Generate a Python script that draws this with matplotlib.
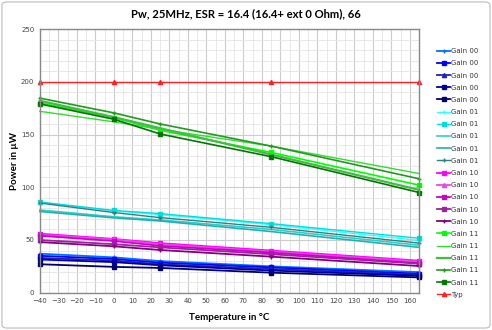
import matplotlib
matplotlib.use("Agg")
import matplotlib.pyplot as plt
from matplotlib.patches import FancyBboxPatch
from matplotlib.ticker import MultipleLocator

# temperatures measured
temps = [-40, 0, 25, 85, 165]

# Gain 00 (blue)
g00_a = [37, 33.5, 30, 25, 19.5]
g00_b = [35, 32, 28.5, 24, 18]
g00_c = [33, 30.5, 27, 22.5, 17]
g00_d = [31.5, 29, 26, 21, 16]
g00_e = [27, 24.5, 23.5, 19, 14.5]

# Gain 01 (cyan)
g01_a = [85.5, 77.5, 74, 64.5, 49.5]
g01_b = [86, 78, 75, 65.5, 51.6]
g01_c = [78.4, 72, 69, 60, 45]
g01_d = [77, 71, 68, 58, 43]
g01_e = [85, 76, 71.2, 62, 47]

# Gain 10 (magenta)
g10_a = [56, 51, 47, 40, 30.4]
g10_b = [55, 50.5, 46, 39, 29.5]
g10_c = [54, 49, 44.5, 38, 28]
g10_d = [50, 46, 43, 36.5, 27.5]
g10_e = [48, 44, 40.5, 34.2, 25.3]

# Gain 11 (green)
g11_a = [180, 166, 154, 133, 102]
g11_b = [172, 162, 155, 139, 113]
g11_c = [182, 166.5, 156, 131, 97.5]
g11_d = [184.5, 170.5, 160, 139, 108]
g11_e = [179, 164.5, 150.5, 129, 95]

typ = [200, 200, 200, 200, 200]

series = [
    ("Gain 00", g00_a, "#0070FF", "+", 1.3),
    ("Gain 00", g00_b, "#0000FF", "s", 1.3),
    ("Gain 00", g00_c, "#2020C0", "^", 1.3),
    ("Gain 00", g00_d, "#000099", "s", 1.3),
    ("Gain 00", g00_e, "#000070", "s", 1.3),
    ("Gain 01", g01_a, "#33FFFF", "+", 1.0),
    ("Gain 01", g01_b, "#00DDDD", "s", 1.0),
    ("Gain 01", g01_c, "#33CCCC", None, 1.2),
    ("Gain 01", g01_d, "#20B0B0", None, 1.2),
    ("Gain 01", g01_e, "#308080", "+", 1.0),
    ("Gain 10", g10_a, "#FF00FF", "s", 1.3),
    ("Gain 10", g10_b, "#EE44EE", "^", 1.3),
    ("Gain 10", g10_c, "#CC00CC", "s", 1.3),
    ("Gain 10", g10_d, "#A020A0", "s", 1.3),
    ("Gain 10", g10_e, "#800080", "+", 1.3),
    ("Gain 11", g11_a, "#00FF00", "s", 1.2),
    ("Gain 11", g11_b, "#33DD33", None, 1.0),
    ("Gain 11", g11_c, "#44BB44", None, 1.6),
    ("Gain 11", g11_d, "#229922", "+", 1.2),
    ("Gain 11", g11_e, "#007700", "s", 1.2),
    ("Typ", typ, "#FF2020", "^", 1.0),
]

fig = plt.figure(figsize=(4.92, 3.30), dpi=100)
frame = FancyBboxPatch((0.004, 0.006), 0.992, 0.988,
                       boxstyle="round,pad=0,rounding_size=0.01",
                       transform=fig.transFigure, facecolor="white",
                       edgecolor="#BBBBBB", linewidth=0.8, zorder=-10)
fig.patches.append(frame)
ax = fig.add_axes([0.081, 0.113, 0.771, 0.799])
ax.set_facecolor("none")

for name, vals, col, mk, lw in series:
    ax.plot(temps, vals, color=col, marker=mk, markersize=3, markeredgewidth=1,
            linewidth=lw, label=name, clip_on=False)

ax.set_xlim(-40, 165)
ax.set_ylim(0, 250)
ax.xaxis.set_major_locator(MultipleLocator(10))
ax.xaxis.set_minor_locator(MultipleLocator(5))
ax.yaxis.set_major_locator(MultipleLocator(50))
ax.yaxis.set_minor_locator(MultipleLocator(10))
ax.grid(which="major", color="#CCCCCC", linewidth=0.8)
ax.grid(which="minor", color="#E4E4E4", linewidth=0.6)
ax.set_axisbelow(True)
for s in ax.spines.values():
    s.set_color("#888888")
    s.set_linewidth(1.0)
ax.tick_params(which="both", length=0, labelsize=5, colors="#444444", pad=4)

fig.text(0.5, 0.96, "Pw, 25MHz, ESR = 16.4 (16.4+ ext 0 Ohm), 66", fontsize=8.1,
         fontweight="bold", family="Lato", ha="center", va="center")
ax.set_xlabel("Temperature in °C", fontsize=7, fontweight="bold", family="Lato", labelpad=6)
ax.set_ylabel("Power in µW", fontsize=7, fontweight="bold", family="Lato", labelpad=1)

leg = ax.legend(loc="upper left", bbox_to_anchor=(1.04, 0.938), frameon=False,
                fontsize=5, handlelength=1.9, handletextpad=0.1, labelspacing=0.89,
                borderaxespad=0)
for t in leg.get_texts():
    t.set_color("#333333")

fig.savefig("out.png", dpi=100)
